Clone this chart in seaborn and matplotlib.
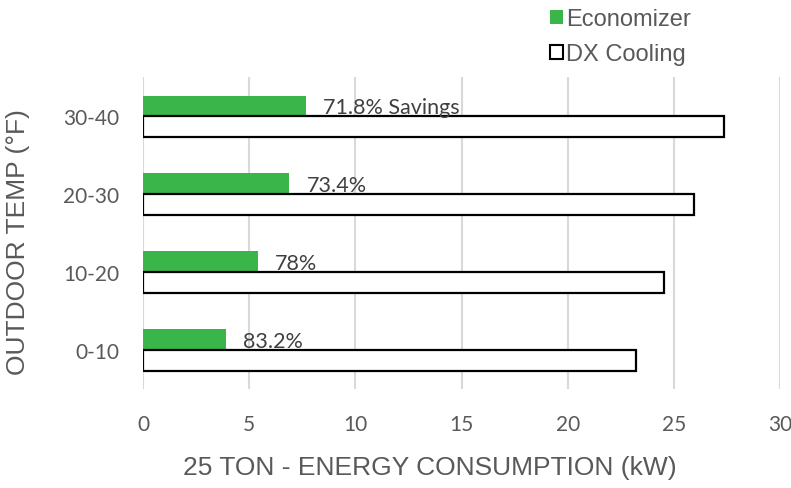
import matplotlib
matplotlib.use("Agg")
import matplotlib.pyplot as plt
import seaborn as sns
import pandas as pd
from matplotlib.patches import Patch

categories = ["30-40", "20-30", "10-20", "0-10"]
economizer = [7.68, 6.89, 5.39, 3.89]
dx_cooling = [27.35, 25.95, 24.54, 23.23]
savings_labels = ["71.8% Savings", "73.4%", "78%", "83.2%"]
series_names = ["Economizer", "DX Cooling"]
x_ticks = [0, 5, 10, 15, 20, 25, 30]

sns.set_theme(style="white")
plt.rcParams["font.family"] = ["Liberation Sans", "DejaVu Sans"]

df = pd.DataFrame({
    "temp": categories * 2,
    "kw": economizer + dx_cooling,
    "series": [series_names[0]] * 4 + [series_names[1]] * 4,
})

fig = plt.figure(figsize=(7.91, 4.89), dpi=100)
ax = fig.add_axes([0.181, 0.2025, 0.805, 0.6375])

green = "#39B54A"
sns.barplot(data=df, x="kw", y="temp", hue="series", order=categories,
            hue_order=series_names, palette=[green, "white"], width=0.53,
            orient="h", ax=ax, legend=False, saturation=1)

for p in ax.patches:
    fc = p.get_facecolor()
    if fc[0] > 0.9 and fc[1] > 0.9 and fc[2] > 0.9:
        p.set_edgecolor("black")
        p.set_linewidth(1.6)
    else:
        p.set_edgecolor("none")

for i, (e, lab) in enumerate(zip(economizer, savings_labels)):
    ax.text(e + 0.8, i + 0.01, lab, ha="left", va="bottom", fontsize=15.5,
            color="#404040", family=["Lato", "DejaVu Sans"])

ax.set_xlim(0, 30)
ax.set_ylim(3.5, -0.5)
ax.set_xticks(x_ticks)
ax.grid(axis="x", color="#d9d9d9", linewidth=1.5)
ax.set_axisbelow(True)
for s in ax.spines.values():
    s.set_visible(False)
ax.tick_params(axis="x", labelsize=15, colors="#595959", pad=18, length=0)
ax.tick_params(axis="y", labelsize=15, colors="#595959", pad=17, length=0)
for t in ax.get_xticklabels() + ax.get_yticklabels():
    t.set_family(["Lato", "DejaVu Sans"])
ax.set_xlabel("25 TON - ENERGY CONSUMPTION (kW)", fontsize=19, color="#595959")
ax.set_ylabel("OUTDOOR TEMP (°F)", fontsize=19, color="#595959")
ax.xaxis.set_label_coords(0.45, -0.213)
ax.yaxis.set_label_coords(-0.177, 0.474)

handles = [Patch(facecolor=green, edgecolor="none"),
           Patch(facecolor="white", edgecolor="black", linewidth=1.5)]
fig.legend(handles, series_names, loc="upper left", bbox_to_anchor=(0.668, 1.025),
           frameon=False, fontsize=17, labelcolor="#595959", handlelength=0.55,
           handleheight=0.55, handletextpad=0.15, labelspacing=0.55)

fig.savefig("out.png", dpi=100)
